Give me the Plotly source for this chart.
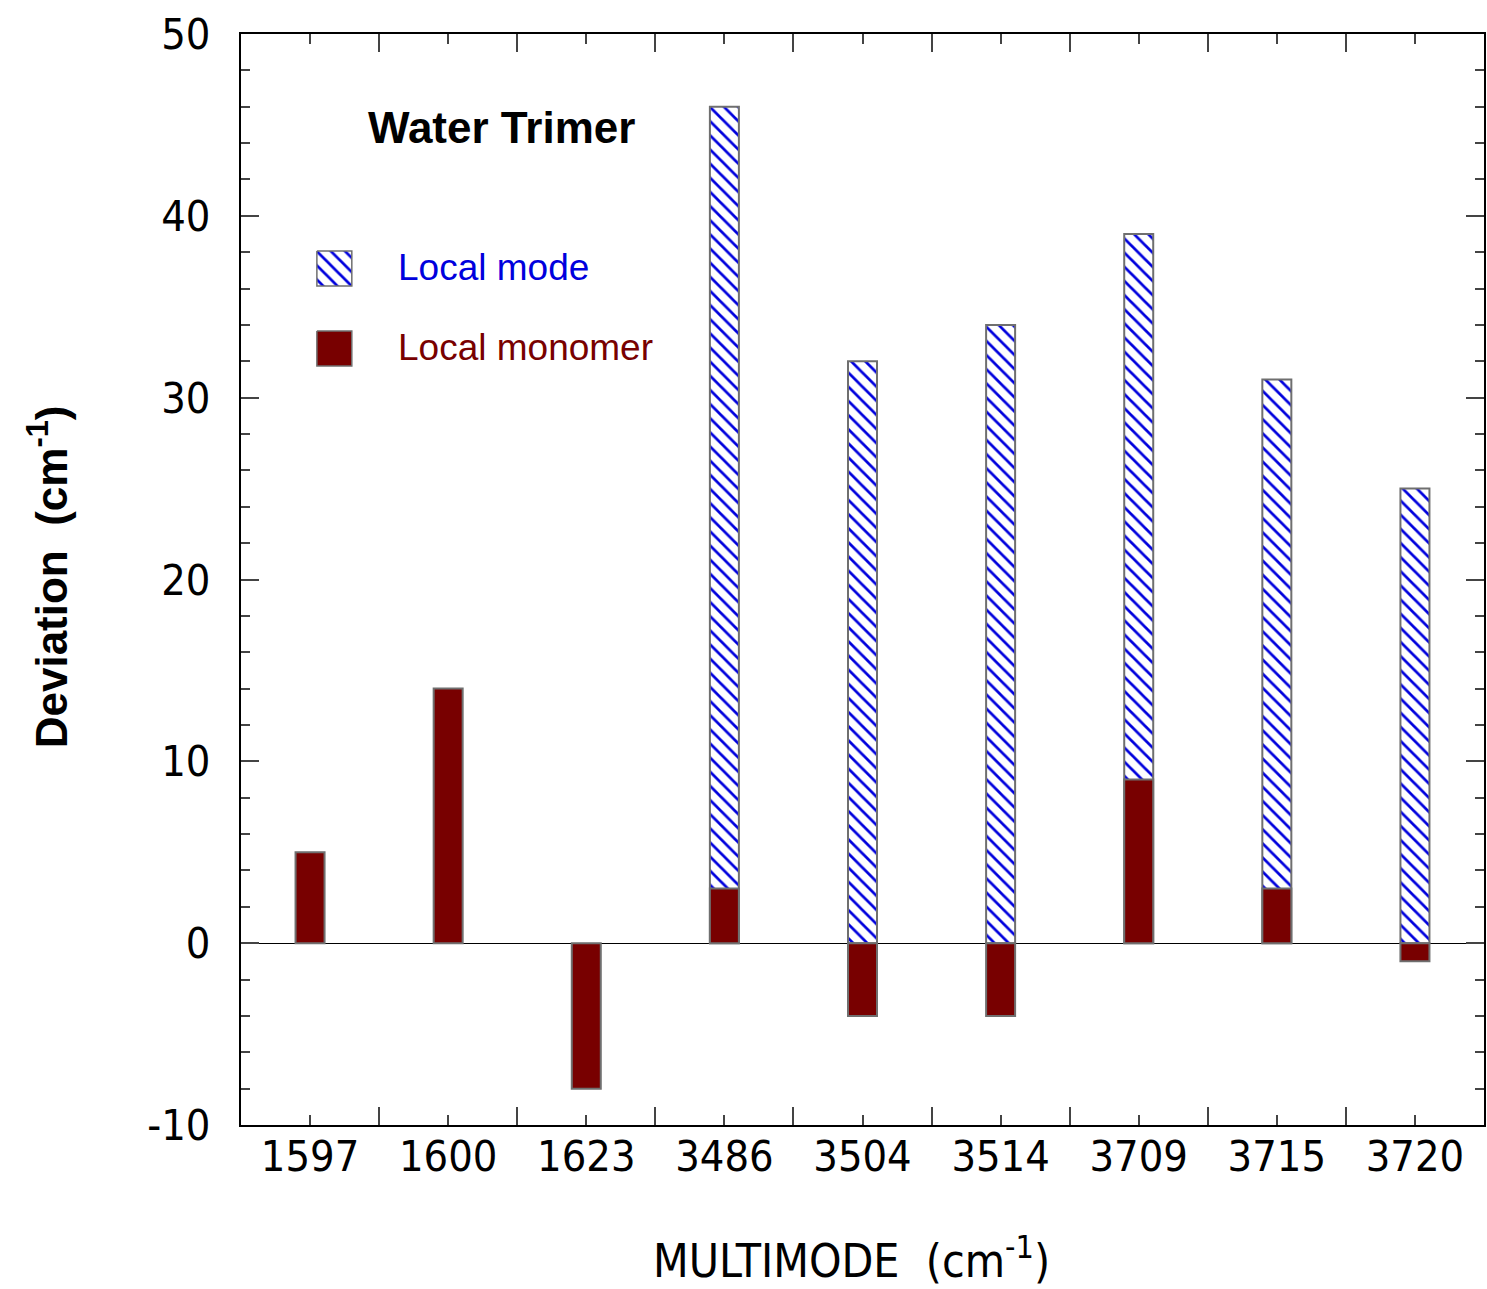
import plotly.graph_objects as go

categories = ["1597", "1600", "1623", "3486", "3504", "3514", "3709", "3715", "3720"]
local_mode = [None, None, None, 46, 32, 34, 39, 31, 25]
local_monomer = [5, 14, -8, 3, -4, -4, 9, 3, -1]
y_tick_vals = [-10, 0, 10, 20, 30, 40, 50]
y_tick_text = ["-10", "0", "10", "20", "30", "40", "50"]

xpos = list(range(len(categories)))

TICKFONT = dict(family="DejaVu Sans Condensed, DejaVu Sans", size=43, color="black")
BLUE = "#0000dd"
DARKRED = "#780000"
OUTLINE = "#6f6f6f"
HATCH = dict(shape="\\", fgcolor=BLUE, bgcolor="white", fgopacity=1, size=10, solidity=0.27)

fig = go.Figure()

fig.add_trace(go.Bar(
    x=xpos, y=local_mode, width=0.21, name="Local mode",
    marker=dict(color="white", line=dict(color=OUTLINE, width=2), pattern=HATCH),
    showlegend=False,
))
fig.add_trace(go.Bar(
    x=xpos, y=local_monomer, width=0.21, name="Local monomer",
    marker=dict(color=DARKRED, line=dict(color=OUTLINE, width=2)),
    showlegend=False,
))

# legend swatches on an overlay axis measured in pixels of the plot area
fig.add_trace(go.Scatter(
    x=[317, 352, 352, 317, 317], y=[251, 251, 286, 286, 251],
    xaxis="x2", yaxis="y2", mode="lines", fill="toself",
    line=dict(color=OUTLINE, width=1.5), fillcolor="white",
    fillpattern=HATCH,
    showlegend=False, hoverinfo="skip",
))
fig.add_trace(go.Scatter(
    x=[317, 352, 352, 317, 317], y=[331, 331, 366, 366, 331],
    xaxis="x2", yaxis="y2", mode="lines", fill="toself",
    line=dict(color=OUTLINE, width=1.5), fillcolor=DARKRED,
    showlegend=False, hoverinfo="skip",
))

fig.update_layout(
    width=1487, height=1289,
    margin=dict(l=241, r=1, t=34, b=164),
    paper_bgcolor="white", plot_bgcolor="white",
    barmode="overlay",
    xaxis=dict(
        range=[-0.5, len(categories) - 0.5],
        tickmode="array", tickvals=xpos, ticktext=categories,
        ticks="inside", ticklen=10, tickwidth=1.5, tickcolor="#444",
        minor=dict(tickmode="linear", tick0=0.5, dtick=1, ticks="inside", ticklen=18,
                   tickwidth=1.5, tickcolor="#444", showgrid=False),
        showline=True, linecolor="black", linewidth=2, mirror="ticks",
        showgrid=False, zeroline=False,
        tickfont=TICKFONT, ticklabelstandoff=-8,
    ),
    yaxis=dict(
        range=[-10, 50],
        tickmode="array", tickvals=y_tick_vals, ticktext=y_tick_text,
        ticks="inside", ticklen=18, tickwidth=1.5, tickcolor="#444",
        minor=dict(tickmode="linear", tick0=0, dtick=2, ticks="inside", ticklen=9,
                   tickwidth=1.5, tickcolor="#444", showgrid=False),
        showline=True, linecolor="black", linewidth=2, mirror="ticks",
        showgrid=False, zeroline=True, zerolinecolor="black", zerolinewidth=1,
        tickfont=TICKFONT, ticklabelstandoff=20,
    ),
    xaxis2=dict(overlaying="x", range=[241, 1486], visible=False, fixedrange=True),
    yaxis2=dict(overlaying="y", range=[1125, 34], visible=False, fixedrange=True),
    annotations=[
        dict(text="Water Trimer", xref="paper", yref="paper",
             x=(502 - 241) / 1245, y=(1125 - 128) / 1091, xanchor="center", yanchor="middle",
             showarrow=False, font=dict(family="Liberation Sans, Arial", size=44, color="black", weight="bold")),
        dict(text="Local mode", xref="paper", yref="paper",
             x=(396 - 241) / 1245, y=(1125 - 267) / 1091, xanchor="left", yanchor="middle",
             showarrow=False, font=dict(family="Liberation Sans, Arial", size=37, color=BLUE)),
        dict(text="Local monomer", xref="paper", yref="paper",
             x=(396 - 241) / 1245, y=(1125 - 347) / 1091, xanchor="left", yanchor="middle",
             showarrow=False, font=dict(family="Liberation Sans, Arial", size=37, color=DARKRED)),
        dict(text="Deviation  (cm<sup>-1</sup>)", xref="paper", yref="paper",
             x=(47 - 241) / 1245, y=(1125 - 577) / 1091, xanchor="center", yanchor="middle",
             textangle=-90, showarrow=False,
             font=dict(family="Liberation Sans, Arial", size=44, color="black", weight="bold")),
        dict(text="MULTIMODE  (cm<sup>-1</sup>)", xref="paper", yref="paper",
             x=(852 - 241) / 1245, y=(1125 - 1258) / 1091, xanchor="center", yanchor="middle",
             showarrow=False,
             font=dict(family="DejaVu Sans Condensed, DejaVu Sans", size=46, color="black")),
    ],
)

fig.write_html("out.html")
